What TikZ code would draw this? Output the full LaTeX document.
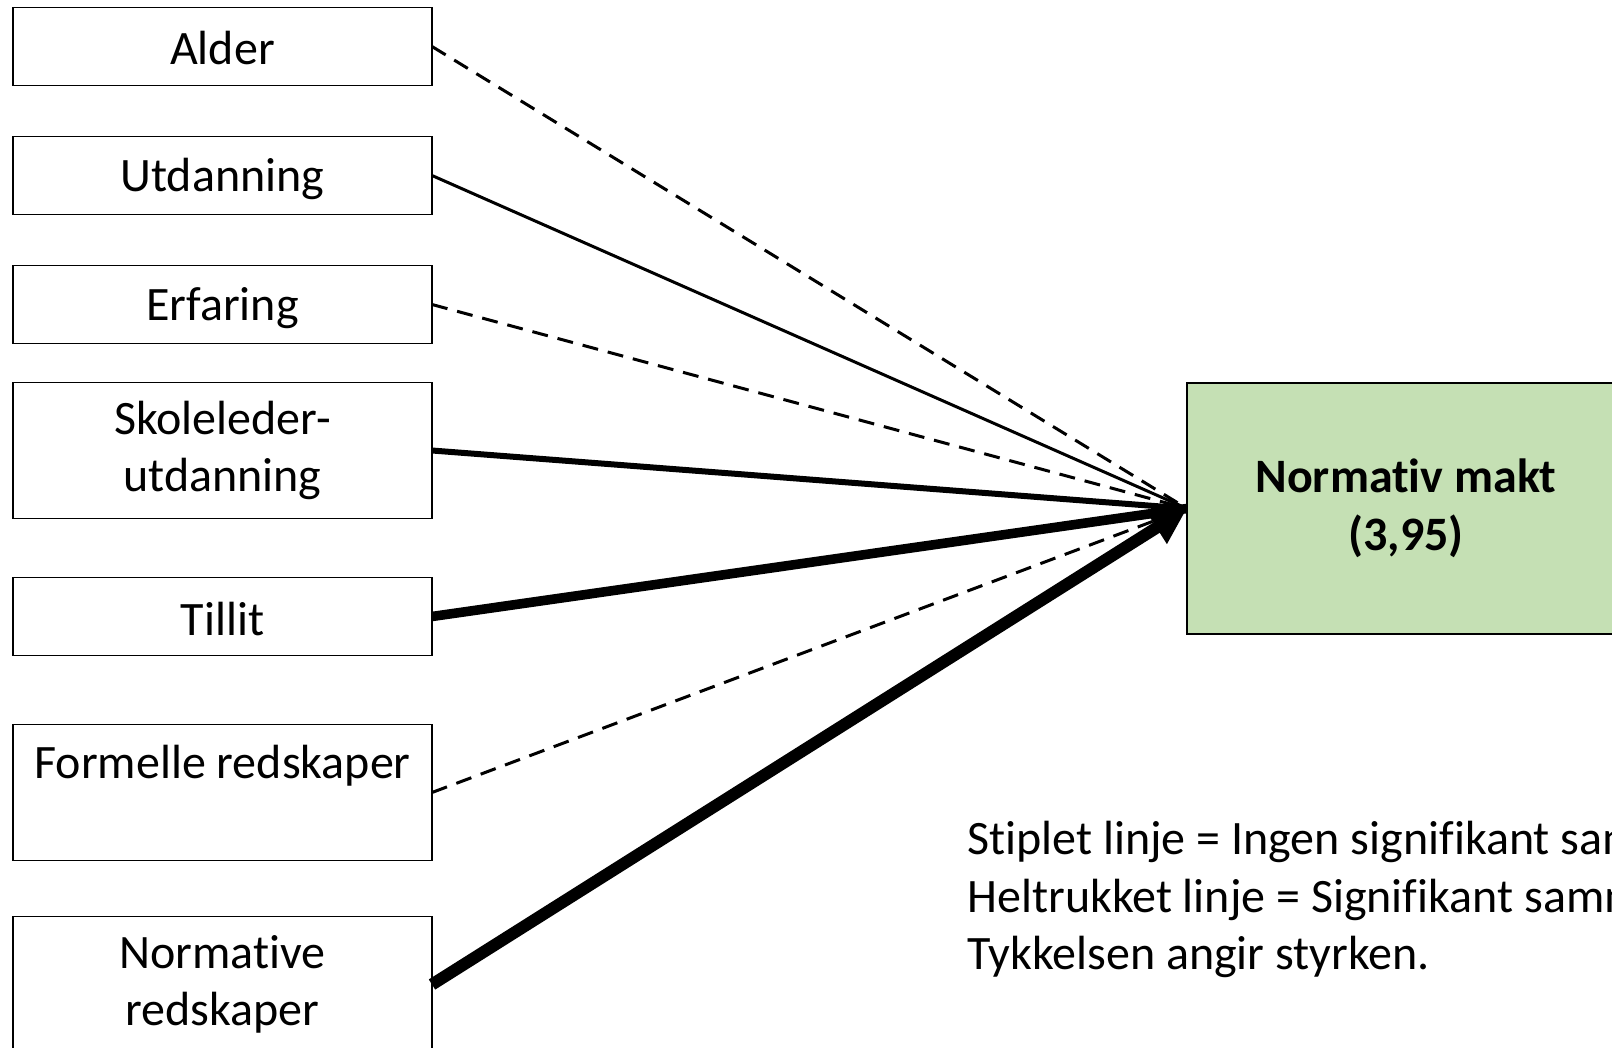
\documentclass[tikz,border=0pt]{standalone}
\usepackage{fontspec}
\setmainfont{Carlito}[Ligatures=NoCommon, RawFeature={-liga;-clig;-calt;-dlig}]
\usetikzlibrary{arrows.meta,positioning,shapes}

\definecolor{maktgreen}{RGB}{197,224,180}
\newcommand{\linestrut}{\rule[-2pt]{0pt}{22.5pt}}

\begin{document}
\begin{tikzpicture}[x=0.5pt,y=-0.5pt]
			\tikzstyle{factor} = [rectangle, draw, line width=0.75pt, minimum width=209.5pt, minimum height=39pt, inner sep=0pt, outer sep=0pt, align=center, font=\fontsize{24}{28.8}\selectfont, execute at begin node=\linestrut, execute at end node=\linestrut]
			\tikzstyle{tall} = [minimum height=68pt]
			\tikzstyle{outcome} = [factor, fill=maktgreen, minimum width=219pt, minimum height=125.5pt, font=\fontsize{24}{28.8}\selectfont\bfseries]
			\tikzstyle{ns} = [draw, line width=1.5pt, dash pattern=on 8pt off 5pt]
			\tikzstyle{sig} = [draw]
			\useasboundingbox (0,0) rectangle (1612,1048);

			\node [factor] (alder) at (222.5,46.5) {Alder};
			\node [factor, below=25.5pt of alder] (utdanning) {Utdanning};
			\node [factor, below=25.5pt of utdanning] (erfaring) {Erfaring};
			\node [factor, tall, below=19.5pt of erfaring] (skoleleder) {Skoleleder-\\utdanning};
			\node [factor, below=29.5pt of skoleleder] (tillit) {Tillit};
			\node [factor, tall, below=34.5pt of tillit] (formelle) {Formelle redskaper\\};
			\node [factor, tall, below=28pt of formelle] (normative) {Normative\\redskaper};
			\node [outcome] (makt) at (1406,508.5) {Normativ makt\\(3,95)};

			\node [anchor=north west, inner sep=0pt, align=left, font=\fontsize{24}{28.8}\selectfont, execute at begin node=\linestrut, execute at end node=\linestrut] (legend) at (967,821) {Stiplet linje = Ingen signifikant sammenheng\\Heltrukket linje = Signifikant sammenheng\\Tykkelsen angir styrken.};

			\draw[ns] (alder.east) -- (makt.west);
			\draw[sig, line width=1.5pt] (utdanning.east) -- (makt.west);
			\draw[ns] (erfaring.east) -- (makt.west);
			\draw[sig, line width=3pt] (skoleleder.east) -- (makt.west);
			\draw[sig, line width=4.8pt] (tillit.east) -- (makt.west);
			\draw[ns] (formelle.east) -- (makt.west);
			\draw[sig, line width=6pt, -{Triangle[length=18pt,width=18pt]}] (normative.east) -- (makt.west);
		\end{tikzpicture}
\end{document}
